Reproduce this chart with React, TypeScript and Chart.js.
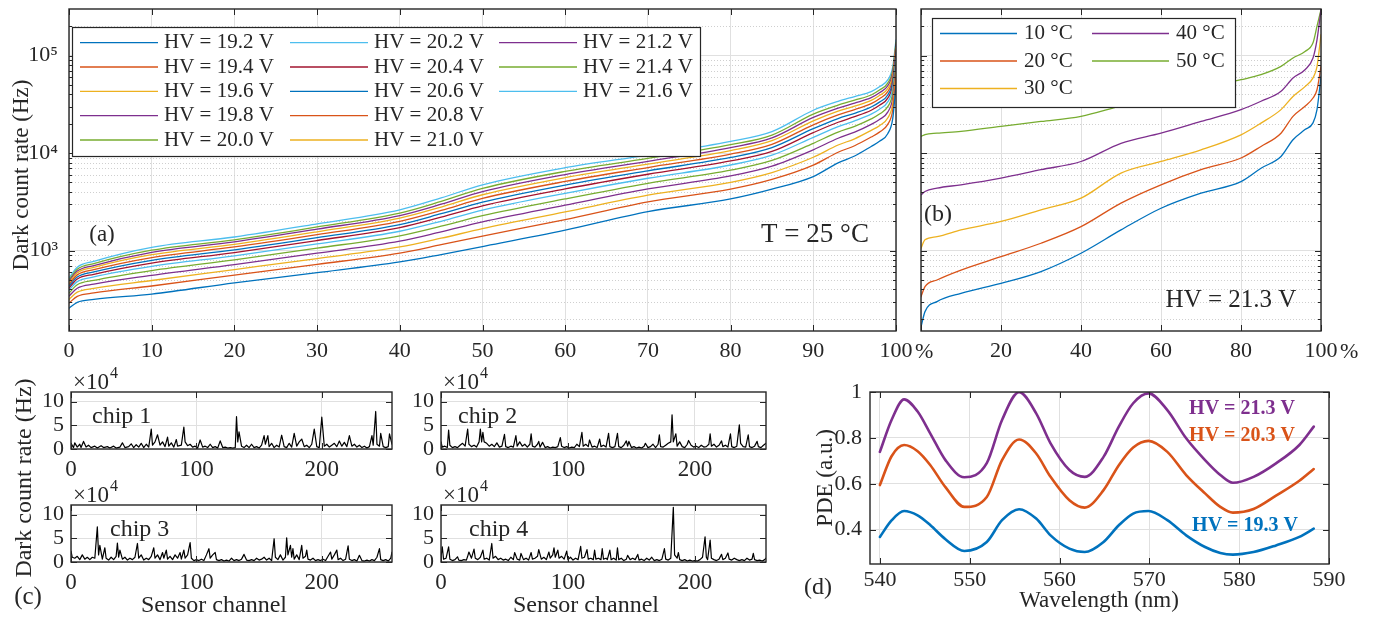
import React, { useEffect, useRef } from 'react';
import { Chart, registerables } from 'chart.js';

Chart.register(...registerables);

// ---------------- data ----------------
// (a) sorted dark count rate vs. percentage of sensors, T = 25 °C
const pctA = [0, 1, 3, 10, 20, 30, 40, 45, 50, 60, 70, 80, 85, 90, 93, 95, 97, 98, 99, 99.6, 100];
const hvLabelsA = ['HV = 19.2 V', 'HV = 19.4 V', 'HV = 19.6 V', 'HV = 19.8 V', 'HV = 20.0 V', 'HV = 20.2 V', 'HV = 20.4 V', 'HV = 20.6 V', 'HV = 20.8 V', 'HV = 21.0 V', 'HV = 21.2 V', 'HV = 21.4 V', 'HV = 21.6 V'];
const dcr192 = [257, 295, 316, 359, 467, 594, 766, 912, 1100, 1620, 2510, 3390, 4270, 5750, 7940, 9330, 11700, 13200, 15800, 22400, 50100];
const dcr194 = [290, 340, 368, 434, 561, 723, 944, 1150, 1410, 2080, 3160, 4270, 5370, 7520, 10200, 11900, 14600, 16400, 19700, 27500, 60000];
const dcr196 = [316, 375, 410, 494, 640, 830, 1090, 1340, 1680, 2490, 3700, 5020, 6320, 9060, 12100, 14000, 17100, 19100, 22900, 31900, 68100];
const dcr198 = [342, 411, 453, 558, 719, 942, 1250, 1560, 1970, 2920, 4290, 5830, 7350, 10800, 14200, 16400, 19700, 22100, 26300, 36500, 76600];
const dcr200 = [367, 447, 495, 624, 804, 1060, 1420, 1780, 2280, 3390, 4900, 6680, 8410, 12600, 16400, 18800, 22400, 25100, 29900, 41200, 85100];
const dcr202 = [392, 481, 537, 689, 885, 1170, 1580, 2000, 2600, 3870, 5520, 7550, 9510, 14500, 18700, 21400, 25100, 28200, 33500, 46000, 93500];
const dcr204 = [412, 511, 571, 745, 955, 1270, 1720, 2200, 2880, 4290, 6070, 8300, 10400, 16200, 20700, 23600, 27500, 30900, 36600, 50100, 101000];
const dcr206 = [430, 536, 604, 796, 1020, 1360, 1850, 2390, 3140, 4690, 6580, 9020, 11400, 17800, 22600, 25600, 29700, 33300, 39400, 54000, 107000];
const dcr208 = [449, 564, 637, 849, 1090, 1460, 2000, 2580, 3430, 5120, 7110, 9770, 12300, 19500, 24600, 27900, 32100, 36100, 42600, 57900, 115000];
const dcr210 = [468, 592, 673, 908, 1160, 1560, 2150, 2800, 3740, 5600, 7710, 10600, 13400, 21400, 26900, 30300, 34700, 38900, 45900, 62400, 122000];
const dcr212 = [485, 617, 703, 959, 1230, 1660, 2290, 2990, 4030, 6030, 8240, 11400, 14300, 23200, 28900, 32600, 37000, 41500, 49000, 66400, 129000];
const dcr214 = [502, 643, 736, 1010, 1290, 1750, 2430, 3200, 4340, 6490, 8810, 12200, 15300, 25100, 31000, 34900, 39400, 44300, 52100, 70500, 136000];
const dcr216 = [525, 676, 776, 1080, 1380, 1880, 2620, 3470, 4730, 7080, 9550, 13200, 16600, 27500, 33900, 38000, 42700, 47900, 56200, 75900, 145000];
const seriesA = [dcr192, dcr194, dcr196, dcr198, dcr200, dcr202, dcr204, dcr206, dcr208, dcr210, dcr212, dcr214, dcr216];

// (b) sorted dark count rate vs. percentage, HV = 21.3 V
const pctB = [0, 1, 4, 10, 20, 30, 40, 50, 60, 70, 80, 85, 90, 93, 96, 98, 99, 100];
const tempLabelsB = ['10 °C', '20 °C', '30 °C', '40 °C', '50 °C'];
const dcr10C = [165, 237, 300, 365, 462, 610, 940, 1630, 2720, 3880, 5100, 7000, 9230, 13700, 17400, 20400, 27900, 61000];
const dcr20C = [337, 427, 500, 632, 867, 1190, 1760, 3070, 4730, 6760, 8900, 11700, 16000, 23800, 30200, 36700, 44600, 77400];
const dcr30C = [1060, 1290, 1390, 1630, 1990, 2620, 3450, 6240, 8200, 10800, 15400, 20300, 27900, 38000, 48000, 59000, 77000, 164000];
const dcr40C = [3730, 4040, 4370, 4730, 5540, 6760, 8200, 12600, 16000, 21100, 27900, 34000, 43000, 59000, 71600, 94400, 145000, 295000];
const dcr50C = [14800, 15500, 16000, 16700, 18800, 21100, 23800, 30500, 38000, 45700, 56500, 63700, 77400, 94400, 110000, 135000, 200000, 295000];
const seriesB = [dcr10C, dcr20C, dcr30C, dcr40C, dcr50C];

// (c) dark count rate per sensor channel, [channel, rate (x1e4 Hz)]
const chipNames = ['chip 1', 'chip 2', 'chip 3', 'chip 4'];
const chip1 = [[0,1.2],[2,0.3],[3,1.3],[5,0.4],[7,1.0],[8,0.3],[10,1.6],[12,0.4],[14,0.8],[16,0.3],[19,0.6],[21,0.2],[24,0.7],[26,0.3],[29,0.5],[31,0.2],[34,0.6],[36,0.2],[39,0.4],[41,1.3],[43,0.3],[46,0.5],[48,1.1],[50,0.3],[52,0.9],[54,0.4],[56,1.2],[58,0.3],[60,1.0],[62,0.4],[64,4.2],[65,0.8],[67,1.5],[69,3.0],[71,0.8],[73,1.5],[75,0.5],[77,2.5],[78,0.6],[80,1.3],[82,0.4],[84,2.0],[85,0.6],[88,0.8],[90,4.6],[91,1.5],[93,0.7],[95,1.0],[97,0.4],[99,0.6],[101,0.2],[103,1.9],[105,0.4],[107,0.6],[109,0.3],[111,1.0],[113,0.3],[115,0.5],[117,0.2],[119,1.7],[121,0.3],[123,0.4],[125,0.2],[127,0.3],[129,0.2],[131,0.3],[132,6.8],[133,1.5],[134,3.6],[136,0.6],[138,0.3],[140,0.8],[142,0.3],[144,1.0],[146,0.3],[148,0.5],[150,0.2],[152,0.8],[154,2.8],[155,1.0],[157,2.8],[158,0.5],[160,1.2],[162,0.3],[164,0.8],[166,0.4],[168,2.9],[170,0.5],[172,0.3],[174,1.2],[176,0.4],[178,3.3],[180,0.6],[182,1.5],[184,2.1],[186,0.5],[188,0.8],[190,0.3],[192,1.0],[194,4.2],[196,0.5],[198,0.3],[200,6.7],[202,0.6],[204,1.0],[206,0.4],[208,0.8],[210,1.2],[212,0.5],[214,1.7],[216,0.6],[218,1.4],[220,0.5],[222,2.8],[224,0.6],[226,1.0],[228,0.4],[230,0.8],[232,0.3],[234,0.6],[236,0.2],[238,0.5],[240,2.8],[241,0.8],[243,7.9],[244,1.0],[246,0.6],[247,3.3],[249,0.5],[251,0.3],[253,0.5],[254,3.2],[256,1.0]];
const chip2 = [[0,1.5],[1,0.4],[3,0.6],[5,0.3],[6,4.0],[7,0.8],[9,0.3],[11,0.5],[13,0.3],[15,0.8],[17,1.2],[19,0.6],[21,4.2],[22,1.0],[24,0.5],[26,0.8],[28,0.4],[30,1.5],[31,4.2],[32,1.5],[33,3.5],[34,1.5],[36,1.2],[38,0.6],[40,1.0],[42,0.5],[44,1.3],[46,0.4],[48,0.6],[50,3.1],[51,0.5],[53,0.3],[55,0.6],[57,0.4],[59,2.8],[60,0.6],[62,1.5],[64,0.6],[66,1.0],[68,0.4],[70,1.0],[71,3.2],[72,0.6],[74,0.4],[76,1.0],[77,1.6],[78,0.4],[80,1.4],[82,0.3],[84,0.5],[86,0.2],[88,0.4],[90,0.3],[92,0.5],[94,2.4],[95,0.6],[97,0.3],[99,0.5],[101,0.2],[103,0.4],[105,0.3],[107,1.0],[109,0.5],[111,3.5],[112,0.6],[114,1.0],[116,0.5],[117,1.9],[119,0.4],[121,0.6],[123,0.3],[125,2.1],[126,0.5],[128,0.8],[130,0.4],[132,3.3],[133,0.5],[135,0.3],[137,0.5],[139,3.3],[140,0.5],[142,0.3],[144,0.8],[146,1.7],[147,0.6],[148,1.6],[150,0.3],[152,0.5],[154,0.2],[156,0.4],[158,0.2],[160,0.6],[161,1.2],[163,0.3],[165,0.5],[167,1.0],[169,0.3],[171,1.0],[172,3.0],[173,0.5],[175,0.4],[177,0.8],[179,1.2],[181,1.5],[182,7.2],[183,1.5],[185,3.2],[186,0.6],[188,1.5],[190,0.5],[192,0.3],[194,1.0],[195,1.8],[197,0.8],[199,0.4],[201,0.6],[203,0.3],[205,0.8],[207,0.4],[209,0.5],[211,1.0],[212,3.2],[213,0.6],[215,1.0],[217,0.4],[219,0.8],[221,1.7],[222,0.5],[224,0.8],[226,0.4],[228,3.2],[229,0.5],[231,0.3],[233,0.6],[235,5.1],[236,1.2],[238,0.5],[240,0.4],[242,3.0],[243,0.5],[245,0.3],[247,0.6],[249,1.6],[250,0.5],[252,0.3],[254,0.8],[256,1.2]];
const chip3 = [[0,2.3],[1,1.0],[3,0.8],[5,1.2],[7,0.5],[9,1.5],[11,0.6],[13,1.0],[15,0.5],[17,1.0],[19,0.8],[21,7.4],[22,1.5],[23,3.5],[25,0.6],[27,3.0],[28,0.8],[30,0.4],[32,1.0],[34,0.5],[36,1.2],[37,4.0],[38,1.0],[39,2.5],[41,0.6],[43,1.0],[45,0.4],[47,0.8],[49,0.5],[51,1.0],[53,3.9],[54,0.8],[56,1.5],[58,0.4],[60,0.8],[62,0.5],[64,1.2],[66,3.0],[67,0.8],[69,1.5],[71,0.5],[73,2.0],[74,0.8],[76,2.5],[77,0.6],[79,1.2],[81,0.5],[83,1.5],[85,0.8],[87,2.0],[88,0.6],[90,2.5],[91,0.8],[93,1.5],[95,4.1],[96,0.8],[98,0.3],[100,0.5],[102,0.3],[104,0.6],[106,0.3],[108,1.5],[110,2.8],[111,0.8],[113,1.5],[115,2.0],[116,0.5],[118,0.3],[120,0.5],[122,0.2],[124,0.4],[126,0.2],[128,0.8],[130,0.3],[132,0.5],[134,0.3],[136,0.6],[138,1.6],[140,0.4],[142,0.3],[144,0.5],[146,0.3],[148,0.8],[150,0.4],[152,0.6],[154,1.0],[156,0.4],[158,0.8],[160,0.3],[162,4.9],[163,1.0],[165,0.5],[167,1.5],[169,0.4],[171,1.0],[172,5.1],[173,1.5],[175,3.5],[176,1.0],[177,2.8],[178,0.6],[180,1.5],[182,0.5],[184,3.5],[185,0.8],[187,1.2],[188,2.5],[189,0.6],[191,0.4],[193,0.8],[195,0.3],[197,0.5],[199,0.3],[201,0.6],[203,0.3],[205,1.2],[207,2.1],[208,0.6],[210,1.5],[212,2.5],[213,0.5],[215,0.8],[217,0.3],[219,0.6],[221,3.4],[222,0.6],[224,0.3],[226,0.5],[228,0.2],[230,1.4],[232,0.3],[234,0.2],[236,0.4],[238,0.2],[240,0.5],[242,0.3],[244,1.0],[246,2.8],[247,0.5],[249,0.3],[251,0.5],[253,0.2],[255,0.8],[256,2.1]];
const chip4 = [[0,1.0],[1,3.2],[2,0.6],[4,0.8],[6,3.2],[7,0.6],[9,0.3],[11,0.5],[13,1.1],[14,0.4],[16,0.3],[18,0.5],[20,0.4],[21,1.2],[22,2.1],[24,0.8],[26,2.7],[27,0.8],[29,0.5],[31,1.0],[33,2.5],[34,0.6],[36,0.8],[38,0.4],[40,3.9],[41,0.8],[43,1.2],[45,0.5],[47,0.8],[49,0.4],[51,0.6],[53,0.3],[55,1.0],[57,0.5],[58,2.0],[60,0.6],[62,0.4],[63,1.8],[65,0.5],[67,0.8],[69,0.4],[71,2.0],[72,0.6],[74,0.8],[76,1.2],[77,2.6],[79,0.6],[81,1.0],[83,0.5],[85,2.1],[86,0.8],[88,1.5],[89,3.0],[90,1.0],[92,2.5],[93,0.8],[95,1.2],[97,0.6],[99,2.3],[100,0.5],[102,1.0],[104,0.4],[106,0.8],[108,0.5],[110,3.3],[111,0.8],[113,1.0],[115,2.6],[116,0.6],[118,0.8],[120,0.5],[121,2.5],[122,0.6],[124,0.8],[126,0.5],[127,2.8],[128,0.6],[130,0.8],[131,0.5],[133,2.5],[134,0.5],[136,0.8],[138,0.4],[139,3.0],[140,0.5],[142,0.8],[144,0.3],[146,0.6],[147,1.4],[149,0.5],[151,0.8],[153,0.5],[155,1.6],[156,0.4],[158,0.6],[160,0.3],[162,0.8],[164,0.4],[166,1.0],[168,0.3],[170,0.5],[172,0.3],[174,0.6],[176,2.8],[177,0.6],[179,0.4],[181,0.8],[183,11.5],[184,1.5],[186,0.8],[187,2.0],[188,0.5],[190,0.3],[192,0.5],[194,0.2],[196,0.4],[198,0.2],[200,0.3],[202,0.2],[204,0.5],[206,1.0],[208,5.3],[209,1.0],[210,0.5],[212,4.6],[213,0.8],[215,0.5],[217,0.3],[219,0.6],[221,1.6],[222,0.5],[224,0.8],[226,1.9],[227,0.6],[229,0.4],[231,0.8],[233,0.5],[235,0.3],[237,0.5],[239,0.3],[241,0.8],[243,0.4],[245,0.6],[246,1.8],[247,0.5],[249,0.3],[251,0.4],[253,0.2],[255,0.5],[256,0.8]];
const chips = [chip1, chip2, chip3, chip4];

// (d) PDE vs wavelength
const wavelength = [540, 541.3, 542.7, 544.2, 545.6, 547.3, 549.4, 551.9, 553.6, 555.5, 557.4, 559, 561.1, 562.8, 564.9, 566.6, 568.2, 569.9, 572, 574.1, 576.2, 577.9, 579.3, 581.6, 584.1, 586.7, 588.3];
const pde213 = [0.739, 0.878, 0.968, 0.915, 0.82, 0.703, 0.628, 0.69, 0.878, 0.999, 0.907, 0.776, 0.66, 0.63, 0.717, 0.849, 0.951, 0.994, 0.921, 0.798, 0.703, 0.638, 0.604, 0.63, 0.689, 0.769, 0.849];
const pde203 = [0.594, 0.72, 0.769, 0.742, 0.682, 0.585, 0.499, 0.542, 0.703, 0.793, 0.732, 0.63, 0.528, 0.496, 0.572, 0.681, 0.758, 0.787, 0.739, 0.638, 0.558, 0.499, 0.474, 0.49, 0.548, 0.613, 0.664];
const pde193 = [0.368, 0.44, 0.481, 0.462, 0.42, 0.358, 0.307, 0.346, 0.441, 0.489, 0.448, 0.375, 0.317, 0.302, 0.346, 0.419, 0.47, 0.481, 0.441, 0.375, 0.324, 0.298, 0.291, 0.302, 0.331, 0.368, 0.404];
const pdeLabels = ['HV = 21.3 V', 'HV = 20.3 V', 'HV = 19.3 V'];

// ticks
const ticksA = [0, 10, 20, 30, 40, 50, 60, 70, 80, 90, 100];
const ticksB = [0, 20, 40, 60, 80, 100];
const logTicks = [1000, 10000, 100000];
const chipTicksX = [0, 100, 200];
const chipTicksY = [0, 5, 10];
const ticksDX = [540, 550, 560, 570, 580, 590];
const ticksDY = [0.4, 0.6, 0.8, 1];

// ---------------- style ----------------
const W = 1377;
const H = 618;
const FONT = '"Liberation Serif", "Times New Roman", Times, serif';
const INK = '#262626';
const GRID = '#e0e0e0';
const MINOR = '#cfcfcf';
const C = { blue: '#0072BD', orange: '#D95319', yellow: '#EDB120', purple: '#7E2F8E', green: '#77AC30', cyan: '#4DBEEE', red: '#A2142F' };
const colorsA = [C.blue, C.orange, C.yellow, C.purple, C.green, C.cyan, C.red, C.blue, C.orange, C.yellow, C.purple, C.green, C.cyan];
const colorsB = [C.blue, C.orange, C.yellow, C.purple, C.green];
const colorsD = [C.purple, C.orange, C.blue];
const SUP: Record<number, string> = { 2: '²', 3: '³', 4: '⁴', 5: '⁵' };

type Area = { l: number; r: number; t: number; b: number };
type Txt = { t: string; x: number; y: number; size: number; bold?: boolean; color?: string; align?: CanvasTextAlign; rot?: number; bg?: boolean; sup?: string };
type LegItem = { label: string; color: string; x0: number; x1: number; tx: number; y: number };
type Decor = { log?: boolean; texts: Txt[]; legend?: { box: [number, number, number, number]; items: LegItem[]; size: number } };

function forceX(h: number) {
  return (s: any) => { s.height = h; s.paddingLeft = 0; s.paddingRight = 0; s.paddingTop = 0; s.paddingBottom = 0; };
}
function forceY(w: number) {
  return (s: any) => { s.width = w; s.paddingLeft = 0; s.paddingRight = 0; s.paddingTop = 0; s.paddingBottom = 0; };
}

function axis(o: { type?: string; min: number; max: number; ticks: number[]; fmt: (v: number) => string; size: number; pad: number; horizontal: boolean; extent: number; labels?: boolean }) {
  return {
    type: o.type || 'linear',
    min: o.min,
    max: o.max,
    afterBuildTicks: (s: any) => { s.ticks = o.ticks.map((v) => ({ value: v })); },
    afterFit: o.horizontal ? forceX(o.extent) : forceY(o.extent),
    ticks: {
      display: o.labels !== false,
      autoSkip: false,
      maxRotation: 0,
      minRotation: 0,
      padding: o.pad,
      color: INK,
      font: { family: FONT, size: o.size },
      callback: (v: any) => o.fmt(Number(v)),
    },
    grid: { color: GRID, lineWidth: 1, drawTicks: false },
    border: { display: false },
  };
}

function drawTxt(ctx: CanvasRenderingContext2D, t: Txt) {
  ctx.save();
  ctx.font = `${t.bold ? 'bold ' : ''}${t.size}px ${FONT}`;
  ctx.fillStyle = t.color || INK;
  ctx.textAlign = t.align || 'center';
  ctx.textBaseline = 'middle';
  ctx.translate(t.x, t.y);
  if (t.rot) ctx.rotate((t.rot * Math.PI) / 180);
  const w = ctx.measureText(t.t).width;
  const x0 = ctx.textAlign === 'left' ? 0 : ctx.textAlign === 'center' ? -w / 2 : -w;
  if (t.bg) {
    ctx.fillStyle = '#ffffff';
    ctx.fillRect(x0 - 2, -t.size * 0.62, w + 4, t.size * 1.24);
    ctx.fillStyle = t.color || INK;
  }
  ctx.fillText(t.t, 0, 0);
  if (t.sup) {
    ctx.font = `${Math.round(t.size * 0.68)}px ${FONT}`;
    ctx.textAlign = 'left';
    ctx.fillText(t.sup, x0 + w + 1, -t.size * 0.38);
  }
  ctx.restore();
}

function decor(id: string, spec: Decor) {
  return {
    id,
    beforeDatasetsDraw(chart: any) {
      if (!spec.log) return;
      const { ctx, chartArea: a } = chart;
      const y = chart.scales.y;
      ctx.save();
      ctx.strokeStyle = MINOR;
      ctx.lineWidth = 1;
      ctx.setLineDash([1, 2]);
      for (let d = 100; d <= 1000000; d *= 10) {
        for (let m = 2; m <= 9; m++) {
          const v = d * m;
          if (v <= y.min || v >= y.max) continue;
          const py = Math.round(y.getPixelForValue(v)) + 0.5;
          ctx.beginPath();
          ctx.moveTo(a.left, py);
          ctx.lineTo(a.right, py);
          ctx.stroke();
        }
      }
      ctx.restore();
    },
    afterDatasetsDraw(chart: any) {
      const { ctx, chartArea: a } = chart;
      const xs = chart.scales.x;
      const ys = chart.scales.y;
      ctx.save();
      ctx.strokeStyle = INK;
      ctx.lineWidth = 1;
      const tl = 6;
      for (const t of xs.ticks) {
        const px = Math.round(xs.getPixelForValue(t.value)) + 0.5;
        ctx.beginPath();
        ctx.moveTo(px, a.bottom); ctx.lineTo(px, a.bottom - tl);
        ctx.moveTo(px, a.top); ctx.lineTo(px, a.top + tl);
        ctx.stroke();
      }
      for (const t of ys.ticks) {
        const py = Math.round(ys.getPixelForValue(t.value)) + 0.5;
        ctx.beginPath();
        ctx.moveTo(a.left, py); ctx.lineTo(a.left + tl, py);
        ctx.moveTo(a.right, py); ctx.lineTo(a.right - tl, py);
        ctx.stroke();
      }
      if (spec.log) {
        for (let d = 100; d <= 1000000; d *= 10) {
          for (let m = 2; m <= 9; m++) {
            const v = d * m;
            if (v <= ys.min || v >= ys.max) continue;
            const py = Math.round(ys.getPixelForValue(v)) + 0.5;
            ctx.beginPath();
            ctx.moveTo(a.left, py); ctx.lineTo(a.left + 3, py);
            ctx.moveTo(a.right, py); ctx.lineTo(a.right - 3, py);
            ctx.stroke();
          }
        }
      }
      ctx.lineWidth = 1.4;
      ctx.strokeRect(a.left, a.top, a.right - a.left, a.bottom - a.top);
      ctx.restore();
    },
    afterDraw(chart: any) {
      const { ctx } = chart;
      if (spec.legend) {
        const L = spec.legend;
        const [x1, y1, x2, y2] = L.box;
        ctx.save();
        ctx.fillStyle = '#ffffff';
        ctx.fillRect(x1, y1, x2 - x1, y2 - y1);
        ctx.strokeStyle = INK;
        ctx.lineWidth = 1.2;
        ctx.strokeRect(x1 + 0.5, y1 + 0.5, x2 - x1, y2 - y1);
        for (const it of L.items) {
          ctx.strokeStyle = it.color;
          ctx.lineWidth = 1.3;
          ctx.beginPath();
          ctx.moveTo(it.x0, it.y);
          ctx.lineTo(it.x1, it.y);
          ctx.stroke();
          drawTxt(ctx, { t: it.label, x: it.tx, y: it.y, size: L.size, align: 'left' });
        }
        ctx.restore();
      }
      for (const t of spec.texts) drawTxt(ctx, t);
    },
  };
}

function layoutFor(a: Area, yW: number, xH: number) {
  return { padding: { left: a.l - yW, right: W - a.r, top: a.t, bottom: H - a.b - xH } };
}

function baseConfig(a: Area, yW: number, xH: number, datasets: any[], x: any, y: any, plugin: any) {
  return {
    type: 'line',
    data: { datasets },
    options: {
      animation: false,
      responsive: false,
      devicePixelRatio: 1,
      events: [],
      layout: layoutFor(a, yW, xH),
      plugins: { legend: { display: false }, tooltip: { enabled: false }, title: { display: false } },
      scales: { x, y },
      elements: { point: { radius: 0 }, line: { borderJoinStyle: 'round', borderCapStyle: 'round' } },
    },
    plugins: [plugin],
  };
}

const logFmt = (v: number) => {
  const e = Math.round(Math.log10(v));
  return Math.abs(Math.log10(v) - e) < 1e-9 ? '10' + (SUP[e] || String(e)) : '';
};

function configA() {
  const a: Area = { l: 69, r: 896, t: 9, b: 331 };
  const ds = seriesA.map((s, i) => ({
    data: pctA.map((p, j) => ({ x: p, y: s[j] })),
    borderColor: colorsA[i], borderWidth: 1.3, pointRadius: 0, cubicInterpolationMode: 'monotone',
  }));
  const colX = [[80, 158, 164], [290, 368, 374], [499, 577, 583]];
  const rowY = [42.7, 67, 91.3, 115.6, 140];
  const items = hvLabelsA.map((label, i) => {
    const c = i < 5 ? 0 : i < 10 ? 1 : 2;
    const r = i % 5;
    return { label, color: colorsA[i], x0: colX[c][0], x1: colX[c][1], tx: colX[c][2], y: rowY[r] };
  });
  const x = axis({ min: 0, max: 100, ticks: ticksA, fmt: (v) => String(v), size: 22, pad: 7, horizontal: true, extent: 40 });
  const y = axis({ type: 'logarithmic', min: 150, max: 300000, ticks: logTicks, fmt: logFmt, size: 22, pad: 11, horizontal: false, extent: 60 });
  const plugin = decor('decorA', {
    log: true,
    legend: { box: [72, 27, 700, 156], items, size: 21 },
    texts: [
      { t: 'Dark count rate (Hz)', x: 22, y: 175, size: 23, rot: -90 },
      { t: '(a)', x: 102, y: 235, size: 23 },
      { t: 'T = 25 °C', x: 815, y: 235, size: 27 },
      { t: '%', x: 915, y: 352, size: 22, align: 'left' },
    ],
  });
  return baseConfig(a, 60, 40, ds, x, y, plugin);
}

function configB() {
  const a: Area = { l: 921, r: 1321, t: 9, b: 331 };
  const ds = seriesB.map((s, i) => ({
    data: pctB.map((p, j) => ({ x: p, y: s[j] })),
    borderColor: colorsB[i], borderWidth: 1.3, pointRadius: 0, cubicInterpolationMode: 'monotone',
  }));
  const colX = [[940, 1017, 1024], [1092, 1169, 1176]];
  const rowY = [33.5, 61, 88.5];
  const items = tempLabelsB.map((label, i) => {
    const c = i < 3 ? 0 : 1;
    const r = i < 3 ? i : i - 3;
    return { label, color: colorsB[i], x0: colX[c][0], x1: colX[c][1], tx: colX[c][2], y: rowY[r] };
  });
  const x = axis({ min: 0, max: 100, ticks: ticksB, fmt: (v) => (v === 0 ? '' : String(v)), size: 22, pad: 7, horizontal: true, extent: 40 });
  const y = axis({ type: 'logarithmic', min: 150, max: 300000, ticks: logTicks, fmt: logFmt, size: 22, pad: 8, horizontal: false, extent: 10, labels: false });
  const plugin = decor('decorB', {
    log: true,
    legend: { box: [932, 18, 1235, 107], items, size: 21 },
    texts: [
      { t: '(b)', x: 938, y: 215, size: 24, bg: true },
      { t: 'HV = 21.3 V', x: 1231, y: 300, size: 25 },
      { t: '%', x: 1340, y: 352, size: 22, align: 'left' },
    ],
  });
  return baseConfig(a, 10, 40, ds, x, y, plugin);
}

const chipAreas: Area[] = [
  { l: 71, r: 392, t: 392, b: 449 },
  { l: 441, r: 766, t: 392, b: 449 },
  { l: 71, r: 392, t: 505, b: 562 },
  { l: 441, r: 766, t: 505, b: 562 },
];
const chipNamePos = [[92, 417], [458, 417], [110, 530], [469, 530]];

function configChip(i: number) {
  const a = chipAreas[i];
  const ds = [{
    data: chips[i].map(([c, r]) => ({ x: c, y: r })),
    borderColor: '#000000', borderWidth: 1.2, pointRadius: 0, tension: 0,
  }];
  const x = axis({ min: 0, max: 256, ticks: chipTicksX, fmt: (v) => String(v), size: 23, pad: 7, horizontal: true, extent: 30 });
  const y = axis({ min: 0, max: 12, ticks: chipTicksY, fmt: (v) => String(v), size: 22, pad: 7, horizontal: false, extent: 40 });
  const texts: Txt[] = [
    { t: '×10', sup: '4', x: a.l + 2, y: a.t - 9, size: 23, align: 'left' },
    { t: chipNames[i], x: chipNamePos[i][0], y: chipNamePos[i][1], size: 24, align: 'left' },
  ];
  if (i === 2) {
    texts.push({ t: 'Dark count rate (Hz)', x: 25, y: 478, size: 24, rot: -90 });
    texts.push({ t: '(c)', x: 28, y: 597, size: 25 });
    texts.push({ t: 'Sensor channel', x: 214, y: 606, size: 24 });
  }
  if (i === 3) texts.push({ t: 'Sensor channel', x: 586, y: 606, size: 24 });
  const plugin = decor('decorChip' + i, { texts });
  return baseConfig(a, 40, 30, ds, x, y, plugin);
}

function configD() {
  const a: Area = { l: 870, r: 1329, t: 392, b: 564 };
  const series = [pde213, pde203, pde193];
  const ds = series.map((s, i) => ({
    data: wavelength.map((w, j) => ({ x: w, y: s[j] })),
    borderColor: colorsD[i], borderWidth: 2.6, pointRadius: 0, cubicInterpolationMode: 'monotone',
  }));
  const x = axis({ min: 538.9, max: 590, ticks: ticksDX, fmt: (v) => String(v), size: 22, pad: 3, horizontal: true, extent: 30 });
  const y = axis({ min: 0.25, max: 1, ticks: ticksDY, fmt: (v) => (v === 1 ? '1' : v.toFixed(1)), size: 22, pad: 8, horizontal: false, extent: 50 });
  const labelPos = [[1242, 409], [1242, 436], [1245, 526]];
  const plugin = decor('decorD', {
    texts: [
      { t: 'PDE (a.u.)', x: 826, y: 478, size: 23, rot: -90 },
      { t: 'Wavelength (nm)', x: 1099, y: 601, size: 23 },
      { t: '(d)', x: 818, y: 588, size: 24 },
      ...pdeLabels.map((l, i) => ({ t: l, x: labelPos[i][0], y: labelPos[i][1], size: 20, bold: true, color: colorsD[i] })),
    ],
  });
  return baseConfig(a, 50, 30, ds, x, y, plugin);
}

function ChartCanvas({ make }: { make: () => any }) {
  const ref = useRef<HTMLCanvasElement | null>(null);
  useEffect(() => {
    if (!ref.current) return;
    const chart = new Chart(ref.current, make());
    return () => chart.destroy();
  }, []);
  return (
    <canvas
      ref={ref}
      width={W}
      height={H}
      style={{ position: 'absolute', left: 0, top: 0, width: W, height: H }}
    />
  );
}

export default function App() {
  const makers = [configA, configB, () => configChip(0), () => configChip(1), () => configChip(2), () => configChip(3), configD];
  return (
    <div style={{ position: 'absolute', left: 0, top: 0, width: W, height: H, background: '#ffffff', overflow: 'hidden' }}>
      {makers.map((m, i) => (
        <ChartCanvas key={i} make={m} />
      ))}
    </div>
  );
}
